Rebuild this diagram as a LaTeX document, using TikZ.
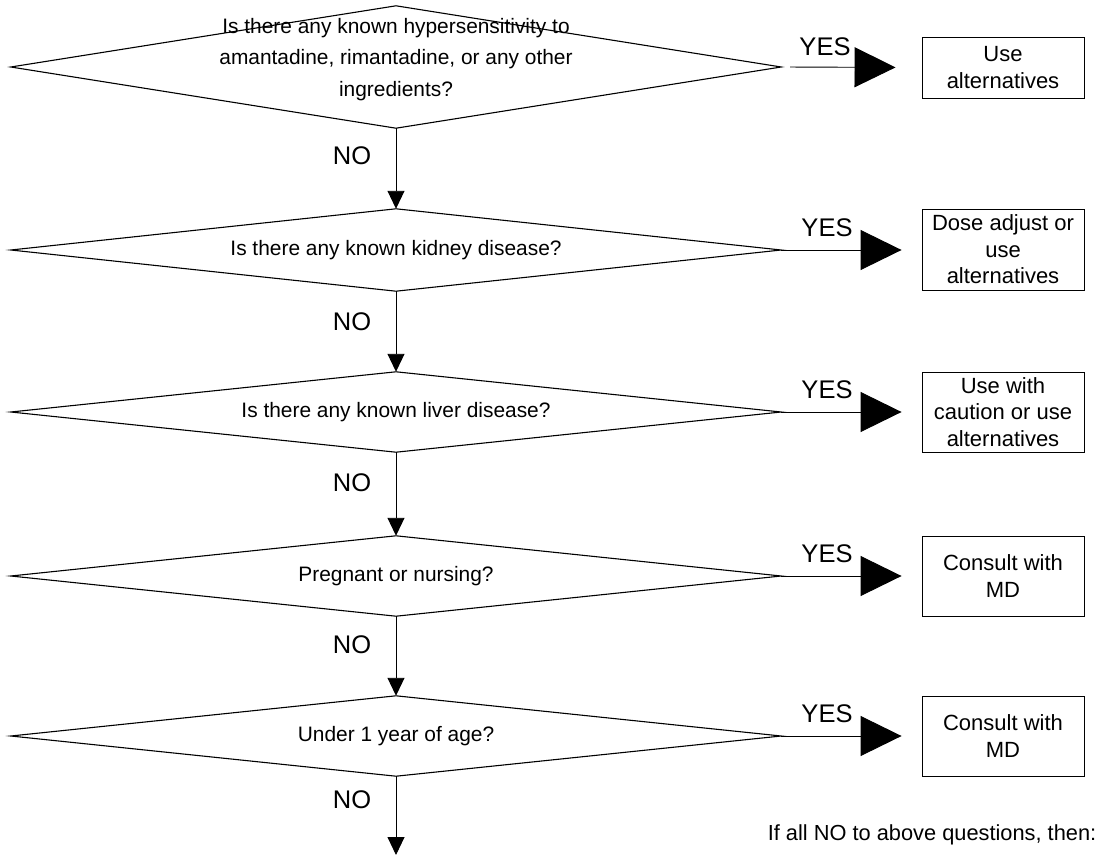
\documentclass[tikz,border=0pt]{standalone}
\usepackage{fontspec}
\setmainfont{Liberation Sans}
\usetikzlibrary{arrows.meta,positioning}

\begin{document}
\begin{tikzpicture}[x=1pt, y=-1pt,
    question/.style={minimum width=770pt, minimum height=80pt, inner sep=0pt, align=center, font=\fontsize{20.9}{31.5}\selectfont},
    action/.style={draw, line width=0.9pt, minimum width=162pt, minimum height=80pt, inner sep=0pt, align=center, font=\fontsize{22}{26.5}\selectfont},
    answer/.style={inner sep=0pt, font=\fontsize{25.5}{30}\selectfont},
    outline/.style={line width=1.1pt, line join=miter},
    noarrow/.style={-{Triangle[length=18pt, width=17pt]}, line width=0.9pt},
    yesarrow/.style={-{Triangle[length=41pt, width=40pt]}, line width=0.9pt}
]
\useasboundingbox (0,0) rectangle (1108,856);

% Questions
\node[question, minimum height=122pt] (q1) at (396,67) {};
\node[question] (t1) at (396,59.5) {Is there any known hypersensitivity to\\amantadine, rimantadine, or any other\\ingredients?};
\node[question, minimum height=82pt] (q2) at (396,250) {Is there any known kidney disease?};
\node[question] (q3) at (396,412) {Is there any known liver disease?};
\node[question] (q4) at (396,576) {Pregnant or nursing?};
\node[question] (q5) at (396,736) {Under 1 year of age?};

\foreach \q in {q1,q2,q3,q4,q5}
    \draw[outline] (\q.west) -- (\q.north) -- (\q.east) -- (\q.south) -- cycle;

% Actions
\node[action, minimum height=61pt] (a1) at (1003,67.5) {Use\\alternatives};
\node[action, minimum height=81pt] (a2) at (1003,249.5) {Dose adjust or\\use\\alternatives};
\node[action] (a3) at (1003,412) {Use with\\caution or use\\alternatives};
\node[action] (a4) at (1003,576) {Consult with\\MD};
\node[action] (a5) at (1003,736) {Consult with\\MD};

\coordinate (out) at (396,855);

% YES branches
\draw[yesarrow, shorten <=9pt, shorten >=26pt] (q1.east) -- (a1.west);
\draw[yesarrow, shorten >=20pt] (q2.east) -- (q2.east -| a2.west);
\draw[yesarrow, shorten >=20pt] (q3.east) -- (q3.east -| a3.west);
\draw[yesarrow, shorten >=20pt] (q4.east) -- (q4.east -| a4.west);
\draw[yesarrow, shorten >=20pt] (q5.east) -- (q5.east -| a5.west);

\node[answer] (y1) at (825,47) {YES};
\node[answer] (y2) at (827,228) {YES};
\node[answer] (y3) at (827,390) {YES};
\node[answer] (y4) at (827,554) {YES};
\node[answer] (y5) at (827,714) {YES};

% NO branches
\draw[noarrow] (q1.south) -- (q2.north);
\draw[noarrow] (q2.south) -- (q3.north);
\draw[noarrow] (q3.south) -- (q4.north);
\draw[noarrow] (q4.south) -- (q5.north);
\draw[noarrow] (q5.south) -- (out);

\node[answer] (n1) at (352,156) {NO};
\node[answer] (n2) at (352,322) {NO};
\node[answer] (n3) at (352,483) {NO};
\node[answer] (n4) at (352,645) {NO};
\node[answer] (n5) at (352,800) {NO};

\node[inner sep=0pt, font=\fontsize{21.8}{26}\selectfont] (note) at (932,835) {If all NO to above questions, then:};

\end{tikzpicture}
\end{document}
